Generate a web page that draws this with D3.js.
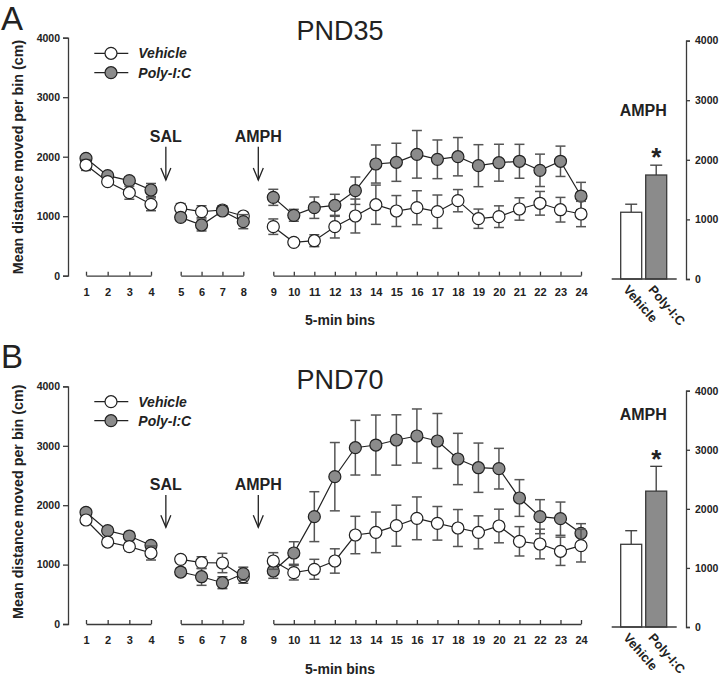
<!DOCTYPE html>
<html><head><meta charset="utf-8">
<script src="https://cdn.jsdelivr.net/npm/d3@7"></script>
<style>
body{margin:0;background:#fff}
svg{display:block}
text{font-family:"Liberation Sans",Arial,Helvetica,sans-serif;fill:#222}
</style>
</head><body>
<svg id="chart" width="720" height="678"></svg>
<script>
// ---------------- data ----------------
const bins = [1,2,3,4,5,6,7,8,9,10,11,12,13,14,15,16,17,18,19,20,21,22,23,24];
const binSegments = [[1,2,3,4],[5,6,7,8],[9,10,11,12,13,14,15,16,17,18,19,20,21,22,23,24]];
const yTicks = [0,1000,2000,3000,4000];
const seriesNames = ["Vehicle","Poly-I:C"];
const panelLetters = ["A","B"];
const panelTitles = ["PND35","PND70"];
const injections = ["SAL","AMPH"];
const xLabel = "5-min bins";
const yLabel = "Mean distance moved per bin (cm)";

const pnd35Vehicle    = [1860,1580,1395,1200, 1132,1076,1104,1003, 824,561,588,824,1003,1193,1087,1143,1076,1261,958,992,1121,1217,1109,1037];
const pnd35VehicleErr = [90,50,110,108, 80,100,70,60, 130,50,100,190,285,330,260,285,280,187,162,182,188,199,207,213];
const pnd35Poly       = [1973,1681,1597,1440, 981,852,1087,908, 1317,1015,1143,1183,1429,1877,1906,2040,1956,2000,1849,1899,1923,1771,1923,1339];
const pnd35PolyErr    = [50,50,60,110, 60,100,70,118, 135,100,180,185,230,320,320,400,325,322,353,310,285,272,255,230];

const pnd70Vehicle    = [1751,1380,1302,1195, 1089,1032,1027,796, 1061,864,921,1061,1498,1543,1655,1779,1695,1616,1543,1650,1392,1347,1224,1319];
const pnd70VehicleErr = [70,60,70,118, 60,100,163,110, 140,123,168,205,315,342,345,360,283,311,278,283,247,250,238,275];
const pnd70Poly       = [1880,1571,1481,1325, 875,796,695,847, 892,1195,1807,2480,2968,3013,3098,3165,3081,2778,2631,2615,2121,1807,1773,1527];
const pnd70PolyErr    = [50,60,60,50, 60,145,100,110, 123,190,420,575,460,505,424,455,463,432,415,342,309,286,280,162];

const barGroups   = ["Vehicle","Poly-I:C"];
const pnd35BarMean = [1120,1745];
const pnd35BarErr  = [135,165];
const pnd70BarMean = [1400,2300];
const pnd70BarErr  = [230,420];
const barTitle = "AMPH";
const sigMark = "*";

// ---------------- drawing ----------------
const svg = d3.select("#chart");
const INK = "#222", AXIS = "#3a3a3a", ERR = "#555", GRAY = "#8b8b8b";

const x = d3.scaleLinear().domain([1,4,5,8,9,24]).range([86,151,180.7,243.3,273.3,581]);

const panels = [
  {oy:0,     vehicle:pnd35Vehicle, vErr:pnd35VehicleErr, poly:pnd35Poly, pErr:pnd35PolyErr,
   barMean:pnd35BarMean, barErr:pnd35BarErr, y0:275.7, y1:37.7, by0:279, by1:40.6,
   barTitleY:116, starY:166, letterY:30, titleY:40, legendY:[53.3,72.7], injY:141.7, arrowY:[146.7,180],
   xLabelY:325, yLabelC:157},
  {oy:348.3, vehicle:pnd70Vehicle, vErr:pnd70VehicleErr, poly:pnd70Poly, pErr:pnd70PolyErr,
   barMean:pnd70BarMean, barErr:pnd70BarErr, y0:624, y1:386.4, by0:627, by1:390.7,
   barTitleY:420, starY:468, letterY:368, titleY:389.3, legendY:[401.7,420.7], injY:489.5, arrowY:[495,527.3],
   xLabelY:674, yLabelC:501.7}
];

panels.forEach((p, pi) => {
  const g = svg.append("g");
  const y = d3.scaleLinear().domain([0,4000]).range([p.y0, p.y1]);

  // panel letter & title
  g.append("text").attr("x",1).attr("y",p.letterY).attr("font-size",33).text(panelLetters[pi]);
  g.append("text").attr("x",340).attr("y",p.titleY).attr("text-anchor","middle").attr("font-size",27).text(panelTitles[pi]);

  // y axis
  const ya = g.append("g").attr("transform","translate(68,0)")
    .call(d3.axisLeft(y).tickValues(yTicks).tickSizeOuter(0).tickSize(5).tickPadding(3).tickFormat(d3.format("d")));
  ya.selectAll("path,line").attr("stroke",AXIS).attr("stroke-width",1.3);
  ya.selectAll("text").attr("font-size",10.5).attr("font-weight","bold").attr("fill",INK)
    .style("font-family","'Liberation Sans',Arial,sans-serif");

  g.append("text").attr("transform",`translate(23,${p.yLabelC}) rotate(-90)`)
    .attr("text-anchor","middle").attr("font-size",14.3).attr("font-weight","bold").text(yLabel);

  // x axis segments
  binSegments.forEach(seg => {
    const s = d3.scaleLinear().domain([seg[0], seg[seg.length-1]]).range([x(seg[0]), x(seg[seg.length-1])]);
    const xa = g.append("g").attr("transform",`translate(0,${p.y0})`)
      .call(d3.axisBottom(s).tickValues(seg).tickSizeInner(-4).tickSizeOuter(0).tickPadding(12.5).tickFormat(d=>String(d)));
    xa.selectAll("path,line").attr("stroke",AXIS).attr("stroke-width",1.3);
    xa.selectAll("text").attr("font-size",11).attr("font-weight","bold").attr("fill",INK)
      .style("font-family","'Liberation Sans',Arial,sans-serif");
  });
  g.append("text").attr("x",340).attr("y",p.xLabelY).attr("text-anchor","middle")
    .attr("font-size",14).attr("font-weight","bold").text(xLabel);

  // injection arrows
  const injX = [(x(4)+x(5))/2, (x(8)+x(9))/2];
  injections.forEach((lab,i) => {
    g.append("text").attr("x",injX[i]).attr("y",p.injY).attr("text-anchor","middle")
      .attr("font-size",16).attr("font-weight","bold").text(lab);
    g.append("line").attr("x1",injX[i]).attr("x2",injX[i]).attr("y1",p.arrowY[0]).attr("y2",p.arrowY[1])
      .attr("stroke",INK).attr("stroke-width",1.3);
    g.append("path").attr("d",`M${injX[i]-5},${p.arrowY[1]-12}L${injX[i]},${p.arrowY[1]}L${injX[i]+5},${p.arrowY[1]-12}`)
      .attr("fill","none").attr("stroke",INK).attr("stroke-width",1.3);
  });

  // series
  const series = [
    {name:seriesNames[0], vals:p.vehicle, errs:p.vErr, fill:"#fff"},
    {name:seriesNames[1], vals:p.poly, errs:p.pErr, fill:GRAY}
  ];
  const line = d3.line().x(d=>x(d.bin)).y(d=>y(d.v));
  const segOrders = [[1,0],[0,1],[1,0]]; // drawing order per segment (last on top)
  binSegments.forEach((seg, si) => {
    segOrders[si].forEach(k => {
      const s = series[k];
      const pts = seg.map(b => ({bin:b, v:s.vals[b-1], e:s.errs[b-1]}));
      g.append("path").datum(pts).attr("d",line).attr("fill","none").attr("stroke",INK).attr("stroke-width",1.2);
    });
    segOrders[si].forEach(k => {
      const s = series[k];
      const pts = seg.map(b => ({bin:b, v:s.vals[b-1], e:s.errs[b-1]}));
      const eg = g.append("g").attr("stroke",ERR).attr("stroke-width",1.5);
      pts.forEach(d => {
        const cx = x(d.bin);
        eg.append("line").attr("x1",cx).attr("x2",cx).attr("y1",y(d.v-d.e)).attr("y2",y(d.v+d.e));
        eg.append("line").attr("x1",cx-5).attr("x2",cx+5).attr("y1",y(d.v+d.e)).attr("y2",y(d.v+d.e));
        eg.append("line").attr("x1",cx-5).attr("x2",cx+5).attr("y1",y(d.v-d.e)).attr("y2",y(d.v-d.e));
      });
      g.selectAll(null).data(pts).enter().append("circle")
        .attr("cx",d=>x(d.bin)).attr("cy",d=>y(d.v)).attr("r",6)
        .attr("fill",s.fill).attr("stroke",INK).attr("stroke-width",1.2);
    });
  });

  // legend
  series.forEach((s,i) => {
    const ly = p.legendY[i];
    g.append("line").attr("x1",94.3).attr("x2",128.3).attr("y1",ly).attr("y2",ly).attr("stroke",INK).attr("stroke-width",1.2);
    g.append("circle").attr("cx",111).attr("cy",ly).attr("r",6).attr("fill",s.fill).attr("stroke",INK).attr("stroke-width",1.2);
    g.append("text").attr("x",138.3).attr("y",ly+5).attr("font-size",14).attr("font-weight","bold")
      .attr("font-style","italic").text(s.name);
  });

  // bar panel
  const by = d3.scaleLinear().domain([0,4000]).range([p.by0, p.by1]);
  const bx = d3.scaleBand().domain(barGroups).range([620.7,666.7]).paddingInner(0.16).paddingOuter(0);
  const ba = g.append("g").attr("transform","translate(686,0)")
    .call(d3.axisRight(by).tickValues(yTicks).tickSizeOuter(0).tickSize(4).tickPadding(5).tickFormat(d3.format("d")));
  ba.selectAll("path,line").attr("stroke",AXIS).attr("stroke-width",1.3);
  ba.selectAll("text").attr("font-size",10.5).attr("font-weight","bold").attr("fill",INK)
    .style("font-family","'Liberation Sans',Arial,sans-serif");

  barGroups.forEach((grp,i) => {
    const m = p.barMean[i], e = p.barErr[i];
    const cx = bx(grp) + bx.bandwidth()/2;
    g.append("line").attr("x1",cx).attr("x2",cx).attr("y1",by(m)).attr("y2",by(m+e)).attr("stroke",AXIS).attr("stroke-width",1.3);
    g.append("line").attr("x1",cx-6).attr("x2",cx+6).attr("y1",by(m+e)).attr("y2",by(m+e)).attr("stroke",AXIS).attr("stroke-width",1.3);
    g.append("rect").attr("x",bx(grp)).attr("y",by(m)).attr("width",bx.bandwidth()).attr("height",by(0)-by(m))
      .attr("fill",i===0?"#fff":GRAY).attr("stroke",AXIS).attr("stroke-width",1.3);
    g.append("text").attr("transform",`translate(${bx(grp)+2},${p.by0+11}) rotate(49)`)
      .attr("font-size",12.8).attr("font-weight","bold").text(grp);
  });
  g.append("line").attr("x1",611.7).attr("x2",676.7).attr("y1",p.by0).attr("y2",p.by0).attr("stroke",AXIS).attr("stroke-width",1.3);
  g.append("text").attr("x",643.3).attr("y",p.barTitleY).attr("text-anchor","middle").attr("font-size",16).attr("font-weight","bold").text(barTitle);
  g.append("text").attr("x",bx(barGroups[1])+bx.bandwidth()/2).attr("y",p.starY).attr("text-anchor","middle")
    .attr("font-size",26).attr("font-weight","bold").text(sigMark);
});
</script>
</body></html>
